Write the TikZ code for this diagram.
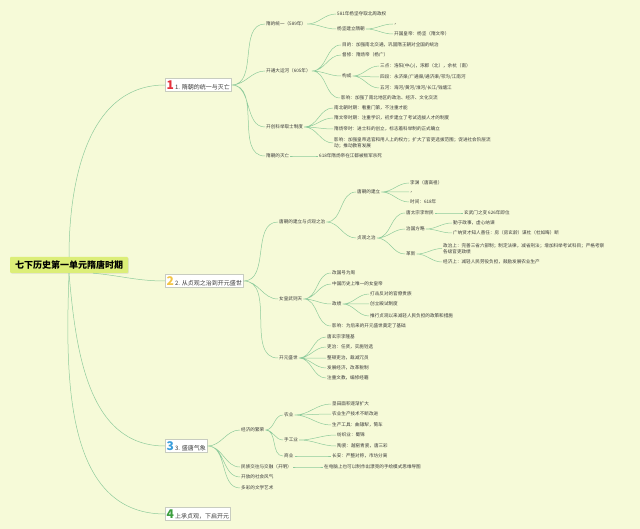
\documentclass[tikz,border=0pt]{standalone}
\usepackage{fontspec}
\setmainfont{Noto Sans CJK SC}
\usetikzlibrary{shadows}
\definecolor{MapPaper}{HTML}{F6FAD8}
\definecolor{MapBranch}{HTML}{8FCB9C}
\definecolor{MapCentre}{HTML}{DCEE78}
\definecolor{MapRule}{HTML}{C8CCC0}
\definecolor{MapInk}{HTML}{3A3A3A}
\definecolor{NumRed}{HTML}{E5323C}
\definecolor{NumYellow}{HTML}{F2C447}
\definecolor{NumBlue}{HTML}{3A9EDC}
\definecolor{NumGreen}{HTML}{3C9E3E}
\newcommand{\bignum}[2]{\textcolor{#1}{\fontsize{12}{12}\selectfont\bfseries #2}\,}

\begin{document}
\begin{tikzpicture}[x=1pt,y=-1pt,
  maptext/.style={anchor=west,inner sep=1pt,align=left,text=MapInk,font=\fontsize{4.6}{6.5}\selectfont},
  maptopic/.style={anchor=west,draw=MapRule,fill=white,inner sep=1.5pt,minimum height=13pt,text=MapInk,font=\fontsize{6}{7}\selectfont,drop shadow={opacity=0.12,shadow xshift=0.8pt,shadow yshift=-0.8pt}},
  mapcentre/.style={fill=MapCentre,rounded corners=1pt,inner sep=3pt,minimum width=118pt,minimum height=16pt,font=\fontsize{9}{10}\selectfont\bfseries,drop shadow={opacity=0.15,shadow xshift=0.8pt,shadow yshift=-0.8pt}},
  branch/.style={draw=MapBranch,line width=0.5pt,out=0,in=180}
]
\fill[MapPaper] (0,0) rectangle (640,529);

% centre and main topics
\node[mapcentre] (centre) at (69,265) {七下历史第一单元隋唐时期};
\node[maptopic] (s1) at (165,85) {\bignum{NumRed}{1}1. 隋朝的统一与灭亡};
\node[maptopic] (s2) at (165,281) {\bignum{NumYellow}{2}2. 从贞观之治到开元盛世};
\node[maptopic] (s3) at (165,446) {\bignum{NumBlue}{3}3. 盛唐气象};
\node[maptopic] (s4) at (165,514) {\bignum{NumGreen}{4}上承贞观，下启开元};
\draw[branch] (centre.north) to[out=90,in=180] (s1.west);
\draw[branch] ([xshift=24pt]centre.south) to[out=-5,in=180] (s2.west);
\draw[branch] (centre.south) to[out=-85,in=180] (s3.west);
\draw[branch] (centre.south) to[out=-92,in=180] (s4.west);

% 1. 隋朝
\node[maptext] (a1) at (265,24) {隋的统一（589年）};
\node[maptext] (a11) at (336,14) {581年杨坚夺取北周政权};
\node[maptext] (a12) at (336,29) {杨坚建立隋朝};
\node[maptext] (a121) at (393,24) {，};
\node[maptext] (a122) at (393,34) {开国皇帝：杨坚（隋文帝）};
\node[maptext] (a2) at (265,71) {开通大运河（605年）};
\node[maptext] (a21) at (341,45) {目的：加强南北交通，巩固隋王朝对全国的统治};
\node[maptext] (a22) at (341,55) {督修：隋炀帝（杨广）};
\node[maptext] (a23) at (341,76) {构成};
\node[maptext] (a231) at (379,66) {三点：洛阳(中心)，涿郡（北），余杭（南）};
\node[maptext] (a232) at (379,77) {四段：永济渠/广通渠/通济渠/邗沟/江南河};
\node[maptext] (a233) at (379,88) {五河：海河/黄河/淮河/长江/钱塘江};
\node[maptext] (a24) at (340,98) {影响：加强了南北地区的政治、经济、文化交流};
\node[maptext] (a3) at (265,127) {开创科举取士制度};
\node[maptext] (a31) at (333,108) {南北朝时期：看重门第，不注重才能};
\node[maptext] (a32) at (333,118) {隋文帝时期：注重学识，初步建立了考试选拔人才的制度};
\node[maptext] (a33) at (333,129) {隋炀帝时：进士科的创立，标志着科举制的正式确立};
\node[maptext] (a34) at (333,143) {影响：加强皇帝选官和用人上的权力；扩大了官吏选拔范围；促进社会阶层流\\动；推动教育发展};
\node[maptext] (a4) at (265,156) {隋朝的灭亡};
\node[maptext] (a41) at (318,156) {618年隋炀帝在江都被叛军杀死};
\draw[branch] (s1.east) to (a1.west) (s1.east) to (a2.west) (s1.east) to (a3.west) (s1.east) to (a4.west);
\draw[branch] (a1.east) to (a11.west) (a1.east) to (a12.west);
\draw[branch] (a12.east) to (a121.west) (a12.east) to (a122.west);
\draw[branch] (a2.east) to (a21.west) (a2.east) to (a22.west) (a2.east) to (a23.west) (a2.east) to (a24.west);
\draw[branch] (a23.east) to (a231.west) (a23.east) to (a232.west) (a23.east) to (a233.west);
\draw[branch] (a3.east) to (a31.west) (a3.east) to (a32.west) (a3.east) to (a33.west) (a3.east) to (a34.west);
\draw[branch] (a4.east) to (a41.west);

% 2. 唐朝
\node[maptext] (b1) at (278,222) {唐朝的建立与贞观之治};
\node[maptext] (b11) at (356,192) {唐朝的建立};
\node[maptext] (b111) at (409,183) {李渊（唐高祖）};
\node[maptext] (b112) at (409,192) {，};
\node[maptext] (b113) at (409,202) {时间：618年};
\node[maptext] (b12) at (356,238) {贞观之治};
\node[maptext] (b121) at (405,213) {唐太宗李世民};
\node[maptext] (b1211) at (463,213) {玄武门之变 626年即位};
\node[maptext] (b122) at (405,229) {治国方略};
\node[maptext] (b1221) at (452,223) {勤于政事，虚心纳谏};
\node[maptext] (b1222) at (452,233) {广纳贤才知人善任：房（房玄龄）谋杜（杜如晦）断};
\node[maptext] (b123) at (405,254) {革新};
\node[maptext] (b1231) at (442,248.5) {政治上：完善三省六部制；制定法律，减省刑法；增加科举考试科目；严格考察\\各级官吏政绩};
\node[maptext] (b1232) at (442,262) {经济上：减轻人民劳役负担，鼓励发展农业生产};
\node[maptext] (b2) at (278,299) {女皇武则天};
\node[maptext] (b21) at (331,273) {改国号为周};
\node[maptext] (b22) at (331,284) {中国历史上唯一的女皇帝};
\node[maptext] (b23) at (331,304) {政绩};
\node[maptext] (b231) at (369,294) {打击反对的官僚贵族};
\node[maptext] (b232) at (369,304) {创立殿试制度};
\node[maptext] (b233) at (369,316) {推行贞观以来减轻人民负担的政策和措施};
\node[maptext] (b24) at (331,326) {影响：为后来的开元盛世奠定了基础};
\node[maptext] (b3) at (278,358) {开元盛世};
\node[maptext] (b31) at (326,337) {唐玄宗李隆基};
\node[maptext] (b32) at (326,347) {吏治：任贤，实施铨选};
\node[maptext] (b33) at (326,358) {整顿吏治，裁减冗员};
\node[maptext] (b34) at (326,368) {发展经济，改革税制};
\node[maptext] (b35) at (326,378) {注重文教，编修经籍};
\draw[branch] (s2.east) to (b1.west) (s2.east) to (b2.west) (s2.east) to (b3.west);
\draw[branch] (b1.east) to (b11.west) (b1.east) to (b12.west);
\draw[branch] (b11.east) to (b111.west) (b11.east) to (b112.west) (b11.east) to (b113.west);
\draw[branch] (b12.east) to (b121.west) (b12.east) to (b122.west) (b12.east) to (b123.west);
\draw[branch] (b121.east) to (b1211.west);
\draw[branch] (b122.east) to (b1221.west) (b122.east) to (b1222.west);
\draw[branch] (b123.east) to (b1231.west) (b123.east) to (b1232.west);
\draw[branch] (b2.east) to (b21.west) (b2.east) to (b22.west) (b2.east) to (b23.west) (b2.east) to (b24.west);
\draw[branch] (b23.east) to (b231.west) (b23.east) to (b232.west) (b23.east) to (b233.west);
\draw[branch] (b3.east) to (b31.west) (b3.east) to (b32.west) (b3.east) to (b33.west) (b3.east) to (b34.west) (b3.east) to (b35.west);

% 3. 盛唐气象
\node[maptext] (c1) at (240,430) {经济的繁荣};
\node[maptext] (c11) at (283,415) {农业};
\node[maptext] (c111) at (331,404) {垦田面积逐渐扩大};
\node[maptext] (c112) at (331,414) {农业生产技术不断改进};
\node[maptext] (c113) at (331,425) {生产工具：曲辕犁，筒车};
\node[maptext] (c12) at (283,440) {手工业};
\node[maptext] (c121) at (336,435) {纺织业：蜀锦};
\node[maptext] (c122) at (336,446) {陶瓷：越窑青瓷，唐三彩};
\node[maptext] (c13) at (283,456) {商业};
\node[maptext] (c131) at (331,456) {长安：严整对称，市坊分离};
\node[maptext] (c2) at (240,467) {民族交往与交融（开明）};
\node[maptext] (c21) at (323,467) {在电脑上也可以制作出漂亮的手绘模式思维导图};
\node[maptext] (c3) at (240,477) {开放的社会风气};
\node[maptext] (c4) at (240,488) {多彩的文学艺术};
\draw[branch] (s3.east) to (c1.west) (s3.east) to (c2.west) (s3.east) to (c3.west) (s3.east) to (c4.west);
\draw[branch] (c1.east) to (c11.west) (c1.east) to (c12.west) (c1.east) to (c13.west);
\draw[branch] (c11.east) to (c111.west) (c11.east) to (c112.west) (c11.east) to (c113.west);
\draw[branch] (c12.east) to (c121.west) (c12.east) to (c122.west);
\draw[branch] (c13.east) to (c131.west);
\draw[branch] (c2.east) to (c21.west);
\end{tikzpicture}
\end{document}
